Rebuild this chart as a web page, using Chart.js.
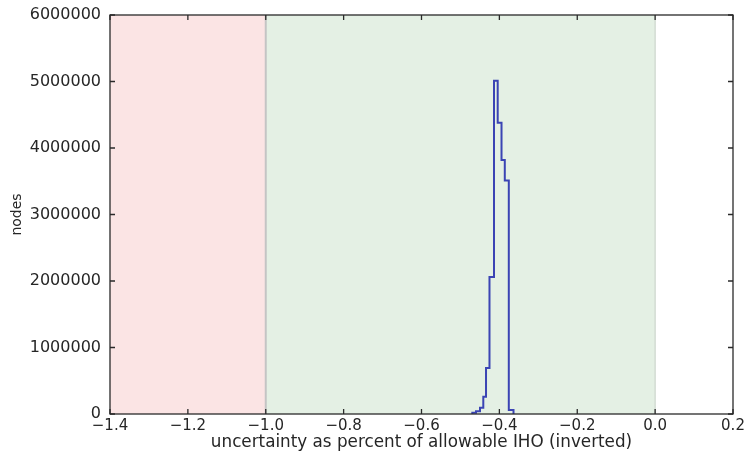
<!DOCTYPE html>
<html>
<head>
<meta charset="utf-8">
<script src="https://cdn.jsdelivr.net/npm/chart.js@4.4.0/dist/chart.umd.min.js"></script>
<style>
    html, body { margin: 0; padding: 0; background: #fff; }
    #wrap { width: 745px; height: 453px; }
</style>
</head>
<body>
<div id="wrap"><canvas id="histChart" width="745" height="453"></canvas></div>
<script>
// ヒストグラムのビン境界と件数
const binEdges = [-0.4695, -0.4600, -0.4498, -0.4413, -0.4343, -0.4254, -0.4138, -0.4043, -0.3945, -0.3861, -0.3758, -0.3637];
const binCounts = [20000, 40000, 95000, 260000, 690000, 2060000, 5010000, 4380000, 3820000, 3510000, 60000];

// 背景の塗り分け範囲
const failRange = [-1.4, -1.0];
const passRange = [-1.0, 0.0];

const xMin = -1.4, xMax = 0.2, xStep = 0.2;
const yMin = 0, yMax = 6000000, yStep = 1000000;

const FONT = 'DejaVu Sans';
const TEXT = '#262626';

function fmtX(v) {
    if (Math.abs(v) < 1e-9) return '0.0';
    const s = Math.abs(v).toFixed(1);
    return v < 0 ? '\u2212' + s : s;
}

// ステップ状の点列
const stepPoints = [{ x: binEdges[0], y: 0 }];
binCounts.forEach((c, i) => stepPoints.push({ x: binEdges[i], y: c }));
stepPoints.push({ x: binEdges[binEdges.length - 1], y: 0 });

// 枠線と内向きの目盛り
const framePlugin = {
    id: 'frame',
    afterDatasetsDraw(chart) {
        const { ctx, chartArea: a, scales } = chart;
        ctx.save();
        ctx.strokeStyle = '#2a2a2a';
        ctx.lineWidth = 1.3;
        const len = 5;
        ctx.beginPath();
        scales.x.ticks.forEach(t => {
            const px = scales.x.getPixelForValue(t.value);
            ctx.moveTo(px, a.bottom); ctx.lineTo(px, a.bottom - len);
            ctx.moveTo(px, a.top); ctx.lineTo(px, a.top + len);
        });
        scales.y.ticks.forEach(t => {
            const py = scales.y.getPixelForValue(t.value);
            ctx.moveTo(a.left, py); ctx.lineTo(a.left + len, py);
            ctx.moveTo(a.right, py); ctx.lineTo(a.right - len, py);
        });
        ctx.stroke();
        ctx.strokeRect(a.left, a.top, a.right - a.left, a.bottom - a.top);
        ctx.restore();
    }
};

const ctx = document.getElementById('histChart').getContext('2d');
new Chart(ctx, {
    type: 'line',
    data: {
        datasets: [
            {
                data: stepPoints,
                stepped: 'before',
                borderColor: '#3b44b4',
                borderWidth: 2,
                pointRadius: 0,
                fill: false
            },
            {
                data: [{ x: failRange[1], y: yMin }, { x: failRange[1], y: yMax }],
                borderColor: '#c4c4c4',
                borderWidth: 2,
                pointRadius: 0,
                fill: false
            },
            {
                data: [{ x: passRange[1], y: yMin }, { x: passRange[1], y: yMax }],
                borderColor: '#d3dcd3',
                borderWidth: 1.5,
                pointRadius: 0,
                fill: false
            },
            {
                data: [{ x: failRange[0], y: yMax }, { x: failRange[1], y: yMax }],
                backgroundColor: '#fbe4e4',
                borderWidth: 0,
                pointRadius: 0,
                fill: 'origin'
            },
            {
                data: [{ x: passRange[0], y: yMax }, { x: passRange[1], y: yMax }],
                backgroundColor: '#e4f0e4',
                borderWidth: 0,
                pointRadius: 0,
                fill: 'origin'
            }
        ]
    },
    options: {
        responsive: false,
        animation: false,
        layout: { padding: { top: 15, right: 12, left: 0, bottom: 0 } },
        plugins: {
            legend: { display: false },
            tooltip: { enabled: false }
        },
        scales: {
            x: {
                type: 'linear',
                min: xMin,
                max: xMax,
                grid: { display: false, drawTicks: false },
                border: { display: false },
                ticks: {
                    stepSize: xStep,
                    padding: 3,
                    color: TEXT,
                    font: { family: FONT, size: 15 },
                    maxRotation: 0,
                    autoSkip: false,
                    callback: v => fmtX(v)
                },
                title: {
                    display: true,
                    text: 'uncertainty as percent of allowable IHO (inverted)',
                    color: TEXT,
                    font: { family: FONT, size: 16.8 },
                    padding: { top: 0, bottom: 0 }
                },
                afterFit: s => {
                    s.height = 453 - 414;
                    s.paddingLeft = 0;
                    s.paddingRight = 0;
                }
            },
            y: {
                min: yMin,
                max: yMax,
                grid: { display: false, drawTicks: false },
                border: { display: false },
                ticks: {
                    stepSize: yStep,
                    padding: 9,
                    color: TEXT,
                    font: { family: FONT, size: 16 },
                    callback: v => String(Math.round(v))
                },
                title: {
                    display: true,
                    text: 'nodes',
                    color: TEXT,
                    font: { family: FONT, size: 14 },
                    padding: { top: 9, bottom: 0 }
                },
                afterFit: s => {
                    s.width = 110;
                    s.paddingTop = 0;
                    s.paddingBottom = 0;
                }
            }
        }
    },
    plugins: [framePlugin]
});
</script>
</body>
</html>
